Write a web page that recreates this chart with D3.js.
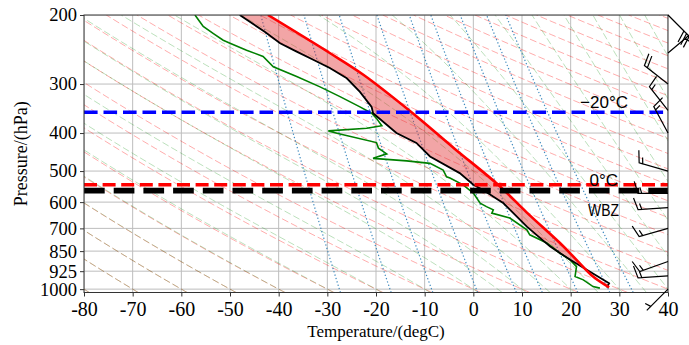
<!DOCTYPE html>
<html>
<head>
<meta charset="utf-8">
<script src="https://cdn.jsdelivr.net/npm/d3@7"></script>
<style>
  body { margin: 0; background: #fff; }
  svg { display: block; }
</style>
</head>
<body>
<div id="chart"></div>
<script>
// axis ticks (the tick at 800/900 carries the labels 850/925 as in the original)
const pressureTicks = [200, 300, 400, 500, 600, 700, 800, 900, 1000];
const pressureTickLabels = ["200", "300", "400", "500", "600", "700", "850", "925", "1000"];
const tempTicks = [-80, -70, -60, -50, -40, -30, -20, -10, 0, 10, 20, 30, 40];

// sounding: environment temperature (hPa, degC)
const envP = [200, 221, 236, 248, 260, 273, 290, 314, 343, 356, 400, 424, 459, 506, 542, 559, 604, 693, 779, 842, 893, 947, 966, 990];
const envT = [-48.0, -42.8, -39.7, -36.3, -32.9, -29.5, -26.0, -23.3, -20.9, -20.6, -15.8, -11.7, -8.9, -2.8, 0.0, 2.0, 6.2, 11.0, 15.8, 19.9, 23.3, 26.7, 27.9, 27.4];

// dew point
const dewP = [200, 208, 214, 223, 232, 236, 246, 255, 271, 287, 305, 323, 343, 356, 367, 383, 389, 395, 402, 423, 437, 452, 464, 471, 478, 497, 517, 521, 542, 569, 604, 616, 628, 640, 659, 706, 727, 763, 810, 842, 876, 929, 947, 985, 994];
const dewT = [-57.2, -56.2, -55.5, -53.4, -51.4, -50.0, -46.6, -43.2, -41.1, -36.3, -31.5, -27.4, -23.3, -20.9, -19.9, -18.8, -21.9, -29.8, -27.4, -19.9, -19.5, -17.8, -20.6, -13.7, -8.9, -6.2, -5.5, -4.8, -2.1, 0.0, 1.4, 2.7, 4.1, 3.8, 7.5, 11.0, 11.6, 15.1, 17.8, 19.9, 21.2, 20.9, 22.6, 24.6, 26.0];

// parcel path
const parcelP = [200, 250, 284, 354, 439, 542, 638, 763, 842, 929, 990];
const parcelT = [-42.2, -29.5, -22.6, -12.7, -3.8, 5.1, 11.0, 17.8, 21.2, 24.6, 27.9];

// marked levels
const levelNames = ["-20", "0", "WBZ"];
const levelP = [354, 542, 561];

// wind barbs (knots)
const barbP = [1000, 925, 850, 700, 620, 570, 500, 400, 350, 300, 250, 200];
const barbU = [3.5, 15, 14, 14, 15, 15, 14, 7, 9.3, 14, -19, -21];
const barbV = [3.5, 1, 5, 4, 1, 0, -4, -13, -11.8, -11, -16, 21];

// background lines
const mixingRatios = [0.0004, 0.001, 0.002, 0.004, 0.007, 0.01, 0.016, 0.024, 0.032];
const dryT0 = d3.range(-80, 241, 10);
const moistT0 = d3.range(-80, 0, 10).concat(d3.range(0, 91, 5));

const W = 689, H = 345;
const plotL = 84, plotR = 668, plotT = 15, plotB = 292.5;
const pBottom = 1020, pTop = 200;

const x = d3.scaleLinear().domain([-80, 40]).range([plotL, plotR]);
const y = d3.scaleLog().domain([pBottom, pTop]).range([plotB, plotT]);

const svg = d3.select("#chart").append("svg")
  .attr("width", W).attr("height", H)
  .attr("viewBox", `0 0 ${W} ${H}`);

svg.append("defs").append("clipPath").attr("id", "plot")
  .append("rect").attr("x", plotL).attr("y", plotT)
  .attr("width", plotR - plotL).attr("height", plotB - plotT);

const plot = svg.append("g").attr("clip-path", "url(#plot)");

// grid
plot.selectAll(".vgrid").data(tempTicks).enter().append("line")
  .attr("x1", d => x(d)).attr("x2", d => x(d))
  .attr("y1", plotT).attr("y2", plotB)
  .attr("stroke", "#bdbdbd").attr("stroke-width", 1);
plot.selectAll(".hgrid").data(pressureTicks).enter().append("line")
  .attr("x1", plotL).attr("x2", plotR)
  .attr("y1", d => y(d)).attr("y2", d => y(d))
  .attr("stroke", "#bdbdbd").attr("stroke-width", 1);

// thermodynamics for the reference lines
const Rd = 287.04749, Cpd = 1004.6662, Lv = 2.50084e6, eps = 0.6219569;
function esat(T) { const tc = T - 273.15; return 6.112 * Math.exp(17.67 * tc / (tc + 243.5)); }
function dTdp(p, T) {
  const e = esat(T);
  if (p - e <= 1) return NaN;
  const r = eps * e / (p - e);
  return (Rd * T + Lv * r) / (Cpd + Lv * Lv * r * eps / (Rd * T * T)) / p;
}
function moistPath(t0) {
  // integrate from 1000 hPa down to pBottom and up to pTop
  const down = [], up = [];
  let T = t0 + 273.15, p = 1000;
  const n1 = 10, h1 = (pBottom - 1000) / n1;
  for (let i = 0; i < n1; i++) {
    const k1 = dTdp(p, T), k2 = dTdp(p + h1 / 2, T + h1 / 2 * k1),
      k3 = dTdp(p + h1 / 2, T + h1 / 2 * k2), k4 = dTdp(p + h1, T + h1 * k3);
    T += h1 / 6 * (k1 + 2 * k2 + 2 * k3 + k4); p += h1;
    down.push([p, T - 273.15]);
  }
  T = t0 + 273.15; p = 1000;
  up.push([p, t0]);
  const n2 = 200, h2 = (pTop - 1000) / n2;
  for (let i = 0; i < n2; i++) {
    const k1 = dTdp(p, T), k2 = dTdp(p + h2 / 2, T + h2 / 2 * k1),
      k3 = dTdp(p + h2 / 2, T + h2 / 2 * k2), k4 = dTdp(p + h2, T + h2 * k3);
    T += h2 / 6 * (k1 + 2 * k2 + 2 * k3 + k4); p += h2;
    if (!isFinite(T)) break;
    up.push([p, T - 273.15]);
  }
  return down.reverse().concat(up).filter(d => isFinite(d[1]));
}
const pSamples = d3.range(0, 101).map(i => pBottom + (pTop - pBottom) * i / 100);

const lineTP = d3.line().x(d => x(d[1])).y(d => y(d[0]));

// dry adiabats
plot.selectAll(".dry").data(dryT0).enter().append("path")
  .attr("d", t0 => lineTP(pSamples.map(p => [p, (t0 + 273.15) * Math.pow(p / 1000, Rd / Cpd) - 273.15])))
  .attr("fill", "none").attr("stroke", "#ff0000").attr("stroke-opacity", 0.33)
  .attr("stroke-width", 1).attr("stroke-dasharray", "7,3");

// moist adiabats
plot.selectAll(".moist").data(moistT0).enter().append("path")
  .attr("d", t0 => lineTP(moistPath(t0)))
  .attr("fill", "none").attr("stroke", "#2ca02c").attr("stroke-opacity", 0.32)
  .attr("stroke-width", 1).attr("stroke-dasharray", "7,3");

// mixing ratio lines
plot.selectAll(".mix").data(mixingRatios).enter().append("path")
  .attr("d", w => lineTP(pSamples.map(p => {
    const e = p * w / (eps + w), l = Math.log(e / 6.112);
    return [p, 243.5 * l / (17.67 - l)];
  })))
  .attr("fill", "none").attr("stroke", "#1f77b4").attr("stroke-opacity", 0.85)
  .attr("stroke-width", 1.2).attr("stroke-dasharray", "1.3,2.2");

// CAPE shading between parcel and environment
function interpLogP(P, T, p) {
  const lp = Math.log(p);
  for (let i = 0; i < P.length - 1; i++) {
    const a = Math.log(P[i]), b = Math.log(P[i + 1]);
    if (lp >= a && lp <= b) return T[i] + (T[i + 1] - T[i]) * (lp - a) / (b - a);
  }
  return NaN;
}
const fillP = d3.range(0, 601).map(i => 200 * Math.pow(990 / 200, i / 600));
const fillData = fillP.map(p => ({ p, te: interpLogP(envP, envT, p), tp: interpLogP(parcelP, parcelT, p) }));
plot.append("path")
  .attr("d", d3.area()
    .defined(d => isFinite(d.te) && isFinite(d.tp) && d.tp >= d.te)
    .y(d => y(d.p)).x0(d => x(d.te)).x1(d => x(d.tp))(fillData))
  .attr("fill", "#e0282c").attr("fill-opacity", 0.42);

// profiles
const envLine = envP.map((p, i) => [p, envT[i]]);
const dewLine = dewP.map((p, i) => [p, dewT[i]]);
const parcelLine = parcelP.map((p, i) => [p, parcelT[i]]);

plot.append("path").attr("d", lineTP(dewLine))
  .attr("fill", "none").attr("stroke", "#008000").attr("stroke-width", 1.6);
plot.append("path").attr("d", lineTP(envLine))
  .attr("fill", "none").attr("stroke", "#000").attr("stroke-width", 1.8);
plot.append("path").attr("d", d3.line().curve(d3.curveCatmullRom).x(d => x(d[1])).y(d => y(d[0]))(parcelLine))
  .attr("fill", "none").attr("stroke", "#ff0000").attr("stroke-width", 2.6);

// level lines
const levelStyle = [
  { color: "#0000ff", width: 3.6, dash: "13.6,5.9" },
  { color: "#ff0000", width: 3.4, dash: "13,5.6" },
  { color: "#000000", width: 5.6, dash: "20.7,9" }
];
levelP.forEach((p, i) => {
  plot.append("line").attr("x1", plotL).attr("x2", plotR)
    .attr("y1", y(p)).attr("y2", y(p))
    .attr("stroke", levelStyle[i].color).attr("stroke-width", levelStyle[i].width)
    .attr("stroke-dasharray", levelStyle[i].dash);
});

// level labels
const lab = svg.append("g").attr("font-family", "Liberation Sans, Arial, sans-serif").attr("font-size", 17).attr("fill", "#000");
lab.append("text").attr("x", 628).attr("y", y(levelP[0]) - 4).attr("text-anchor", "end").text("\u221220\u00b0C");
lab.append("text").attr("x", 618).attr("y", y(levelP[1]) + 1).attr("text-anchor", "end").text("0\u00b0C");
lab.append("text").attr("x", 588).attr("y", 216).attr("textLength", 31).attr("lengthAdjust", "spacingAndGlyphs").text("WBZ");

// frame
svg.append("rect").attr("x", plotL).attr("y", plotT).attr("width", plotR - plotL).attr("height", plotB - plotT)
  .attr("fill", "none").attr("stroke", "#333").attr("stroke-width", 1);

// axes
const xAxis = svg.append("g").attr("transform", `translate(0,${plotB})`)
  .call(d3.axisBottom(x).tickValues(tempTicks).tickFormat(d => String(d)).tickSize(4).tickPadding(5));
const yAxis = svg.append("g").attr("transform", `translate(${plotL},0)`)
  .call(d3.axisLeft(y).tickValues(pressureTicks).tickFormat((d, i) => pressureTickLabels[i]).tickSize(4).tickPadding(3));
[xAxis, yAxis].forEach(a => {
  a.select(".domain").remove();
  a.selectAll("text").attr("font-family", "Liberation Serif, Times New Roman, serif").attr("font-size", 20).attr("fill", "#000");
  a.selectAll("line").attr("stroke", "#333");
});
yAxis.selectAll("text").attr("font-size", 18.5);

svg.append("text").attr("x", (plotL + plotR) / 2).attr("y", 337)
  .attr("text-anchor", "middle").attr("font-family", "Liberation Serif, serif").attr("font-size", 17)
  .text("Temperature/(degC)");
svg.append("text").attr("transform", `translate(27,${(plotT + plotB) / 2}) rotate(-90)`)
  .attr("text-anchor", "middle").attr("font-family", "Liberation Serif, serif").attr("font-size", 18)
  .text("Pressure/(hPa)");

// wind barbs, drawn the way matplotlib builds them (tip at the station, staff towards the wind source)
const L = 30, spacing = 0.125 * L, fh = 0.4 * L, fw = 0.25 * L;
function barbShape(u, v) {
  let mag = Math.round(Math.hypot(u, v) / 5) * 5;
  const nflags = Math.floor(mag / 50); mag -= nflags * 50;
  const nbarbs = Math.floor(mag / 10); mag -= nbarbs * 10;
  const half = mag >= 5;
  const verts = [[0, 0]];
  const flags = [];
  let off = L;
  for (let i = 0; i < nflags; i++) {
    if (off !== L) off += spacing / 2;
    const f = [[0, off], [fh, off - fw / 2], [0, off - fw]];
    verts.push(...f); flags.push(f);
    off -= fw + spacing;
  }
  for (let i = 0; i < nbarbs; i++) {
    verts.push([0, off], [fh, off + fw / 2], [0, off]);
    off -= spacing;
  }
  if (half) {
    if (off === L) { verts.push([0, off]); off -= 1.5 * spacing; }
    verts.push([0, off], [fh / 2, off + fw / 4], [0, off]);
  }
  const a = Math.atan2(v, u) + Math.PI / 2;
  const rot = ([px, py]) => [px * Math.cos(a) - py * Math.sin(a), px * Math.sin(a) + py * Math.cos(a)];
  return { verts: verts.map(rot), flags: flags.map(f => f.map(rot)) };
}
const barbs = svg.append("g");
barbP.forEach((p, i) => {
  const bx = plotR, by = y(p);
  const s = barbShape(barbU[i], barbV[i]);
  const pts = s.verts.map(([px, py]) => [bx + px, by - py]);
  barbs.append("path").attr("d", "M" + pts.map(q => q.join(",")).join("L") + "Z")
    .attr("fill", "none").attr("stroke", "#000").attr("stroke-width", 1.2).attr("stroke-linejoin", "miter");
  s.flags.forEach(f => {
    barbs.append("path").attr("d", "M" + f.map(([px, py]) => [bx + px, by - py].join(",")).join("L") + "Z")
      .attr("fill", "#000");
  });
});
</script>
</body>
</html>
